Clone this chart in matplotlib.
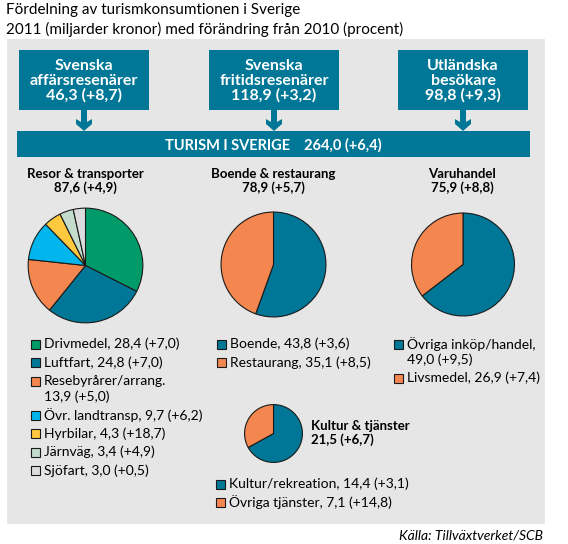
import matplotlib.pyplot as plt
from matplotlib.patches import Rectangle, Polygon

plt.rcParams['font.family'] = ['Lato', 'DejaVu Sans']

W, H = 568, 544
TEAL = '#007797'
GRAY = '#e6e6e6'

# data (miljarder kronor, förändring i procent)
source_names = ['Svenska\naffärsresenärer', 'Svenska\nfritidsresenärer', 'Utländska\nbesökare']
source_values = [46.3, 118.9, 98.8]
source_changes = [8.7, 3.2, 9.3]
total_value = 264.0
total_change = 6.4

cat_names = ['Resor & transporter', 'Boende & restaurang', 'Varuhandel', 'Kultur & tjänster']
cat_values = [87.6, 78.9, 75.9, 21.5]
cat_changes = [4.9, 5.7, 8.8, 6.7]

resor_names = ['Drivmedel', 'Luftfart', 'Resebyrårer/arrang.', 'Övr. landtransp', 'Hyrbilar', 'Järnväg', 'Sjöfart']
resor_values = [28.4, 24.8, 13.9, 9.7, 4.3, 3.4, 3.0]
resor_changes = [7.0, 7.0, 5.0, 6.2, 18.7, 4.9, 0.5]
resor_colors = ['#009b69', TEAL, '#f4874f', '#00b6ed', '#fec93f', '#c4dccb', '#dcdcde']

boende_names = ['Boende', 'Restaurang']
boende_values = [43.8, 35.1]
boende_changes = [3.6, 8.5]

varu_names = ['Övriga inköp/handel', 'Livsmedel']
varu_values = [49.0, 26.9]
varu_changes = [9.5, 7.4]

kultur_names = ['Kultur/rekreation', 'Övriga tjänster']
kultur_values = [14.4, 7.1]
kultur_changes = [3.1, 14.8]

two_colors = [TEAL, '#f4874f']


def num(v):
    return f'{v:.1f}'.replace('.', ',')


def chg(v):
    return f'(+{num(v)})'


fig = plt.figure(figsize=(W / 100, H / 100), dpi=100)
ax = fig.add_axes([0, 0, 1, 1])
ax.set_xlim(0, W)
ax.set_ylim(H, 0)
ax.axis('off')

ax.text(6, 10, 'Fördelning av turismkonsumtionen i Sverige', fontsize=11, va='center')
ax.text(6, 29, '2011 (miljarder kronor) med förändring från 2010 (procent)', fontsize=11, va='center')
ax.add_patch(Rectangle((7, 39), 538, 485, color=GRAY, lw=0))

# top boxes and arrows
box_x = [19, 209, 398]
for x, name, v, c in zip(box_x, source_names, source_values, source_changes):
    ax.add_patch(Rectangle((x, 50), 130, 60, color=TEAL, lw=0))
    ax.text(x + 65, 81, f'{name}\n{num(v)} {chg(c)}', color='white', fontsize=11.5,
            fontweight='bold', ha='center', va='center', linespacing=1.05)
    cx = x + 65
    ax.add_patch(Polygon([(cx - 3, 110), (cx + 3, 110), (cx + 3, 122), (cx + 8, 119),
                          (cx + 8, 124), (cx, 131), (cx - 8, 124), (cx - 8, 119),
                          (cx - 3, 122)], closed=True, color=TEAL, lw=0))

ax.add_patch(Rectangle((17, 131), 513, 26, color=TEAL, lw=0))
ax.text(273, 145, f'TURISM I SVERIGE    {num(total_value)} {chg(total_change)}', color='white',
        fontsize=10.5, fontweight='bold', ha='center', va='center')


def pie(cx, cy, r, values, colors):
    pa = fig.add_axes([(cx - r) / W, 1 - (cy + r) / H, 2 * r / W, 2 * r / H])
    pa.pie(values, colors=colors, startangle=90, counterclock=False, radius=1,
           wedgeprops=dict(edgecolor='#1a1a1a', linewidth=0.8))
    pa.set_xlim(-1.02, 1.02)
    pa.set_ylim(-1.02, 1.02)
    pa.axis('off')


def legend(x, y, names, values, changes, colors, wrap=()):
    for i, (n, v, c, col) in enumerate(zip(names, values, changes, colors)):
        ax.add_patch(Rectangle((x, y - 4.5), 9, 9, facecolor=col, edgecolor='#1a1a1a', lw=0.8))
        if i in wrap:
            sep = ',' if n.endswith('handel') else ''
            ax.text(x + 13, y, n + sep, fontsize=10, va='center')
            y += 15.5
            ax.text(x + 13, y, f'{num(v)} {chg(c)}', fontsize=10, va='center')
        else:
            ax.text(x + 13, y, f'{n}, {num(v)} {chg(c)}', fontsize=10, va='center')
        y += 18.5


def title(x, y, k, ha='center'):
    ax.text(x, y, cat_names[k], fontsize=9.5, fontweight='bold', ha=ha, va='center')
    ax.text(x, y + 14, f'{num(cat_values[k])} {chg(cat_changes[k])}',
            fontsize=9.5, fontweight='bold', ha=ha, va='center')


title(85, 174, 0)
pie(85.5, 265.5, 58.5, resor_values, resor_colors)
legend(31, 344, resor_names, resor_values, resor_changes, resor_colors, wrap=(2,))

title(273, 174, 1)
pie(273.5, 264.5, 53.5, boende_values, two_colors)
legend(217, 344, boende_names, boende_values, boende_changes, two_colors)

title(462, 174, 2)
pie(463, 264.5, 52.5, varu_values, two_colors)
legend(394, 344, varu_names, varu_values, varu_changes, two_colors, wrap=(0,))

title(311, 426, 3, ha='left')
pie(273.5, 433.5, 29.5, kultur_values, two_colors)
legend(216, 484, kultur_names, kultur_values, kultur_changes, two_colors)

ax.text(543, 536, 'Källa: Tillväxtverket/SCB', fontsize=10, style='italic', ha='right', va='center')

fig.savefig('out.png', dpi=100)
